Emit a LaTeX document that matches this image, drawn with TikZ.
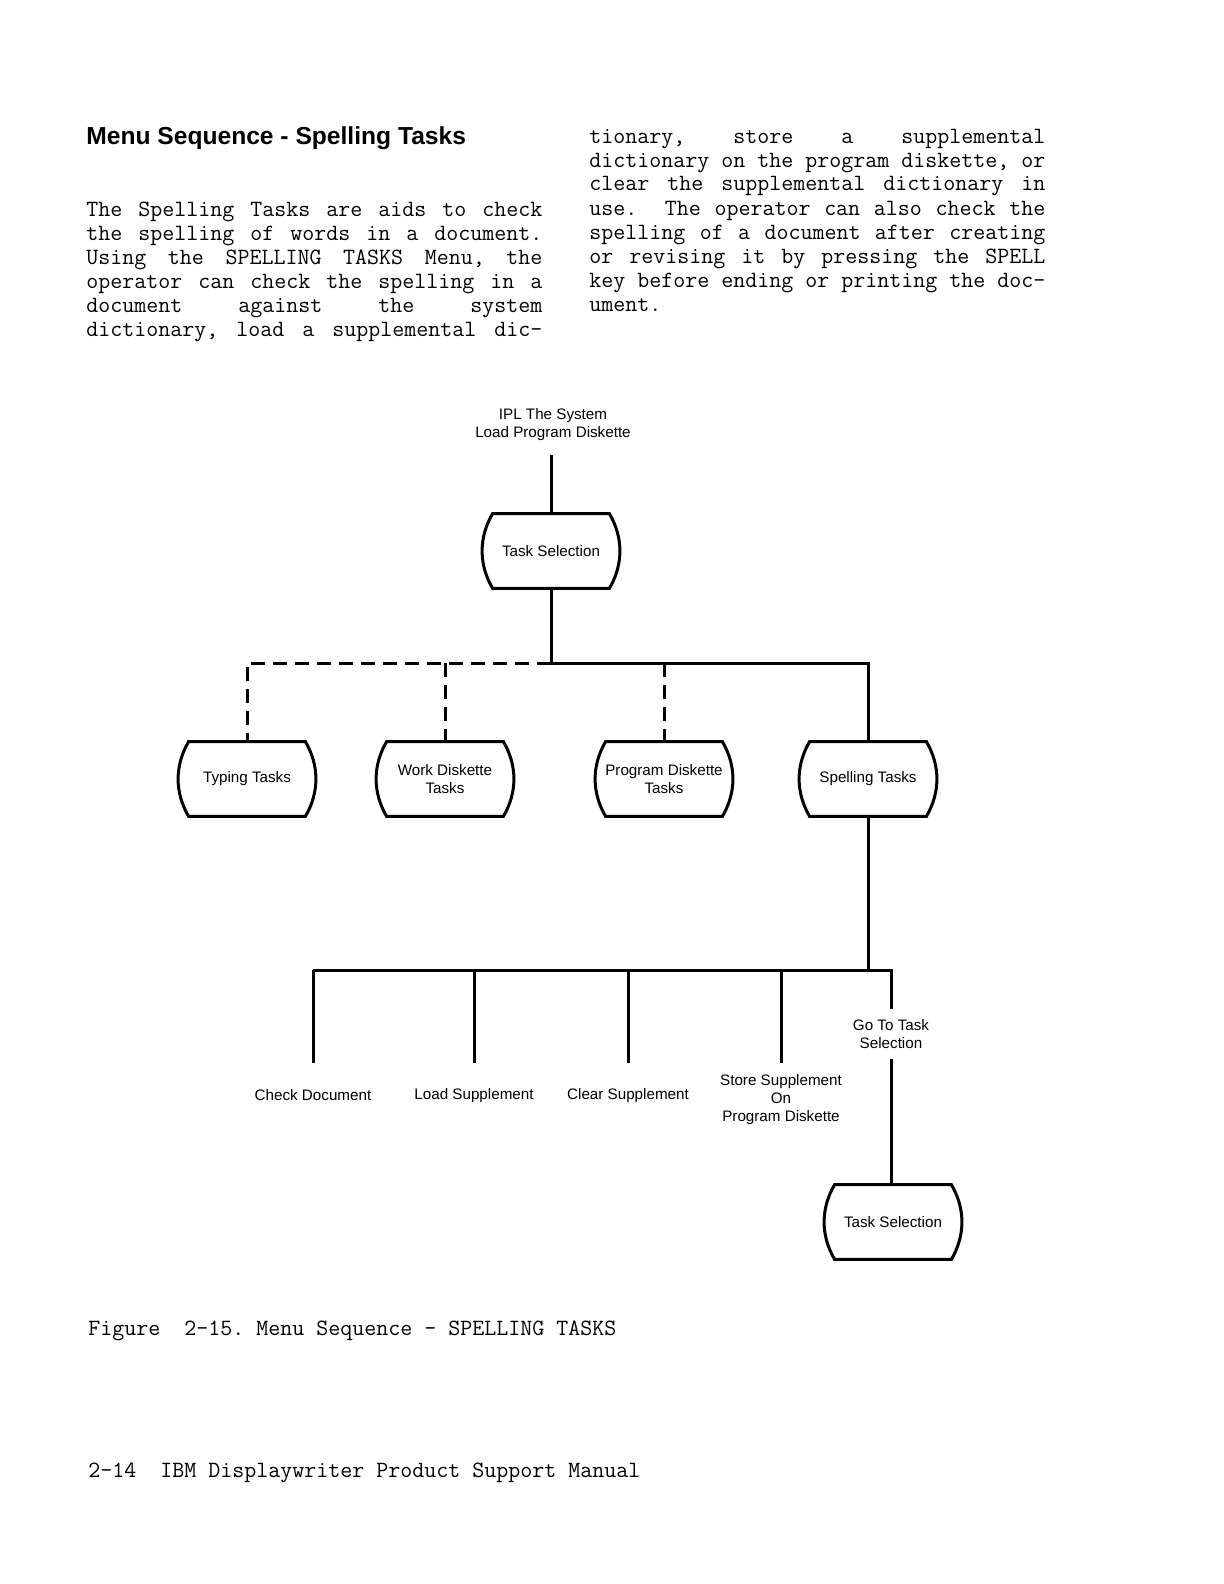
\documentclass[tikz,border=0pt]{standalone}
\usepackage{fontspec}
\setmainfont{Liberation Sans}
\usetikzlibrary{positioning}

% one justified typewriter line of a column
\newcommand{\jline}[1]{\makebox[228pt][s]{\spaceskip=6pt plus 1fil\relax #1}}

\begin{document}
\begin{tikzpicture}[
    x=0.5pt, y=-0.5pt,
    ln/.style={line width=1.5pt},
    dln/.style={ln, dash pattern=on 7pt off 4pt},
    tsk/.style={minimum width=58pt, minimum height=37pt, inner sep=0pt,
                align=center, font=\fontsize{7.6}{9}\selectfont},
    lbl/.style={align=center, inner sep=0pt,
                font=\fontsize{7.6}{9}\selectfont},
    body/.style={anchor=base west, inner sep=0pt,
                 font=\ttfamily\fontsize{11.65}{12}\selectfont\frenchspacing},
  ]
    \useasboundingbox (0,0) rectangle (1224,1584);

    % text of the page
    \node[anchor=base west, inner sep=0pt,
          font=\bfseries\fontsize{12.3}{14}\selectfont] (head) at (86,145)
      {Menu Sequence - Spelling Tasks};
    \foreach \t [count=\i] in {{The Spelling Tasks are aids to check},
        {the spelling of words in a document.},
        {Using the SPELLING TASKS Menu, the},
        {operator can check the spelling in a},
        {document against the system},
        {dictionary, load a supplemental dic-}}
      \node[body] (left\i) at (86,192+24*\i) {\jline{\t}};
    \foreach \t [count=\i] in {{tionary, store a supplemental},
        {dictionary on the program diskette, or},
        {clear the supplemental dictionary in},
        {use.~~The operator can also check the},
        {spelling of a document after creating},
        {or revising it by pressing the SPELL},
        {key before ending or printing the doc-}}
      \node[body] (right\i) at (589,119+24*\i) {\jline{\t}};
    \node[body] (right8) at (589,311) {ument.};
    \node[body] (cap) at (88,1335) {Figure\ \ 2-15. Menu Sequence - SPELLING TASKS};
    \node[body] (foot) at (88,1477) {2-14\ \ IBM Displaywriter Product Support Manual};

    % menu boxes and labels
    \node[lbl] (ipl) at (553,425) {IPL The System\\Load Program Diskette};
    \node[tsk] (sel1) at (551,551) {Task Selection};
    \node[tsk] (typ) at (247,779) {Typing Tasks};
    \node[tsk] (work) at (445,779) {Work Diskette\\Tasks};
    \node[tsk, inner xsep=-2.6pt] (prog) at (664,779) {Program Diskette\\Tasks};
    \node[tsk] (spell) at (868,779) {Spelling Tasks};
    \node[lbl] (chk) at (313,1095) {Check Document};
    \node[lbl] (ldsup) at (474,1096) {Load Supplement};
    \node[lbl] (clrsup) at (628,1096) {Clear Supplement};
    \node[lbl] (stsup) at (781,1100) {Store Supplement\\On\\Program Diskette};
    \node[lbl, inner sep=5pt] (goto) at (891,1034) {Go To Task\\Selection};
    \node[tsk] (sel2) at (893,1222) {Task Selection};

    \coordinate (bus1) at (551,663);
    \coordinate (bus2) at (600,970);
    \coordinate (stub) at (600,1063);

    % box outlines
    \foreach \n in {sel1,typ,work,prog,spell,sel2}
      \draw[ln] (\n.north west) .. controls +(-7pt,-12pt) and +(-7pt,12pt) .. (\n.south west)
        -- (\n.south east) .. controls +(7pt,12pt) and +(7pt,-12pt) .. (\n.north east) -- cycle;

    % connectors
    \draw[ln] (sel1.north) -- ([yshift=-7pt]sel1.north |- ipl.south);
    \draw[ln] (sel1) -- (bus1) -| (spell);
    \draw[dln] (bus1) -| (typ);
    \draw[dln] (bus1 -| work) -- (work);
    \draw[dln] (bus1 -| prog) -- (prog);
    \draw[ln] (spell) -- (spell |- bus2);
    \draw[ln] (bus2 -| chk) -- (bus2 -| goto) -- (goto);
    \foreach \n in {chk,ldsup,clrsup,stsup}
      \draw[ln] (bus2 -| \n) -- (stub -| \n);
    \draw[ln] (goto) -- (goto |- sel2.north);
\end{tikzpicture}
\end{document}
